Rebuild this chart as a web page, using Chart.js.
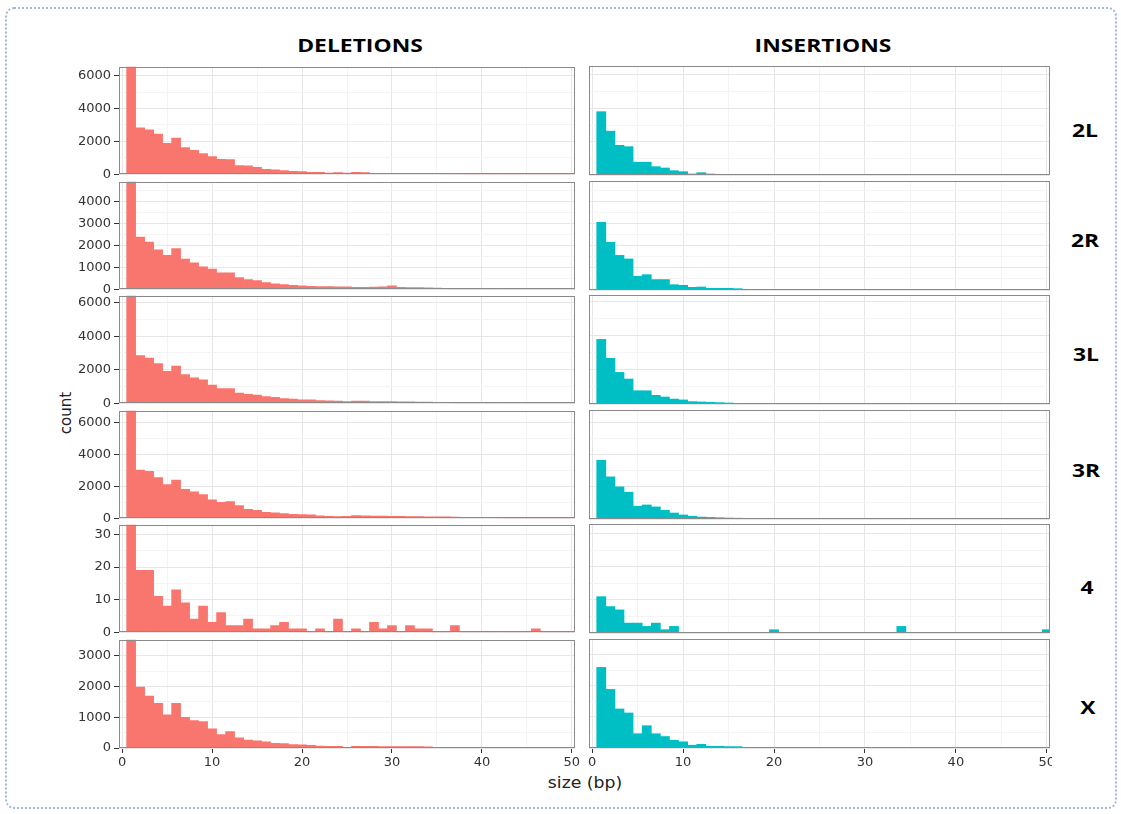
<!DOCTYPE html>
<html>
<head>
<meta charset="utf-8">
<script src="https://cdn.jsdelivr.net/npm/chart.js@4.4.1/dist/chart.umd.min.js"></script>
<style>
  html, body { margin: 0; padding: 0; background: #fff; }
  body { width: 1121px; height: 814px; position: relative; overflow: hidden; font-family: "Liberation Sans", Arial, sans-serif; }
  #frame { position: absolute; left: 5px; top: 7px; width: 1112px; height: 802px; border: 2px dotted #9DB8DB; border-radius: 9px; box-sizing: border-box; }
  .holder { position: absolute; overflow: hidden; }
  .holder canvas { position: absolute; left: 0; top: 0; }
  .strip { position: absolute; font-family: "Open Sans", sans-serif; font-weight: bold; font-size: 18px; color: #000; transform: translate(-50%, -50%) scaleX(1.27); white-space: nowrap; }
  .axis-title { position: absolute; font-family: "DejaVu Sans", sans-serif; font-size: 15px; color: #222; white-space: nowrap; }
</style>
</head>
<body>
<div id="frame"></div>
<div class="strip" style="left:360px;top:45px">DELETIONS</div>
<div class="strip" style="left:823px;top:45px">INSERTIONS</div>
<div class="strip" style="left:1085px;top:130px">2L</div>
<div class="strip" style="left:1085px;top:240px">2R</div>
<div class="strip" style="left:1086px;top:354px">3L</div>
<div class="strip" style="left:1086px;top:470px">3R</div>
<div class="strip" style="left:1087px;top:587px">4</div>
<div class="strip" style="left:1088px;top:707px">X</div>
<div class="axis-title" style="left:66px;top:413px;transform:translate(-50%,-50%) rotate(-90deg)">count</div>
<div class="axis-title" style="left:585px;top:783px;transform:translate(-50%,-50%) scaleX(1.15)">size (bp)</div>
<div id="panels"></div>
<script>
// indel size bins (bp), one bar per integer size
const sizes = [1,2,3,4,5,6,7,8,9,10,11,12,13,14,15,16,17,18,19,20,21,22,23,24,25,
               26,27,28,29,30,31,32,33,34,35,36,37,38,39,40,41,42,43,44,45,46,47,48,49,50];

// x axis ticks (major labelled, minor unlabelled)
const xMajorTicks = [0, 10, 20, 30, 40, 50];
const xMinorTicks = [5, 15, 25, 35, 45];

// chromosome arms, one row each
const chromosomes = ['2L', '2R', '3L', '3R', '4', 'X'];

// deletion counts per size
const del2L = [9800,2830,2700,2440,1880,2200,1620,1450,1250,1070,910,890,530,510,420,300,260,220,180,160,
               120,120,70,100,70,110,100,60,50,50,50,50,40,40,30,20,10,0,0,0,0,0,0,0,0,0,0,0,0,0];
const del2R = [7900,2380,2150,1800,1550,1860,1380,1200,1020,920,750,750,530,440,390,300,240,210,180,150,
               135,120,120,105,105,90,90,100,105,150,80,70,70,60,50,0,0,0,0,0,0,0,0,0,0,0,0,0,0,0];
const del3L = [9600,2840,2690,2370,1900,2220,1710,1510,1390,1080,880,880,610,530,490,390,350,280,240,200,
               200,160,140,120,100,120,120,100,90,90,80,80,70,60,50,40,0,0,0,0,0,0,0,0,0,0,0,0,0,0];
const del3R = [10400,3020,2940,2550,2110,2400,1820,1660,1490,1160,990,1040,790,560,500,370,330,290,250,230,
               210,150,120,100,120,170,150,140,130,120,110,100,100,90,80,80,70,60,50,40,30,20,0,0,0,0,0,0,0,0];
const del4  = [40,19,19,11,8,13,9,4,8,3,6,2,2,4,1,1,2,3,1,1,
               0,1,0,4,0,1,0,3,1,2,0,2,1,1,0,0,2,0,0,0,0,0,0,0,0,1,0,0,0,0];
const delX  = [6100,1980,1690,1450,1080,1450,1000,890,860,620,440,530,330,260,230,200,150,140,110,100,
               90,65,55,55,20,55,55,55,50,50,50,45,45,40,0,0,0,0,0,0,0,0,0,0,0,0,0,0,0,0];

// insertion counts per size
const ins2L = [3800,2630,1780,1700,770,770,500,420,260,200,60,140,60,20,20,0,0,0,0,0,
               0,0,0,0,0,0,0,0,0,0,0,0,0,0,0,0,0,0,0,0,0,0,0,0,0,0,0,0,0,0];
const ins2R = [3050,2150,1560,1400,620,690,470,470,240,210,120,135,75,75,75,60,0,0,0,0,
               0,0,0,0,0,0,0,0,0,0,0,0,0,0,0,0,0,0,0,0,0,0,0,0,0,0,0,0,0,0];
const ins3L = [3800,2690,1860,1470,780,780,510,410,290,240,140,120,100,80,60,40,30,20,0,0,
               0,0,0,0,0,0,0,0,0,0,0,0,0,0,0,0,0,0,0,0,0,0,0,0,0,0,0,0,0,0];
const ins3R = [3640,2610,1990,1660,790,870,750,540,370,250,170,120,100,80,60,50,40,30,0,0,
               0,0,0,0,0,0,0,0,0,0,0,0,0,0,0,0,0,0,0,0,0,0,0,0,0,0,0,0,0,0];
const ins4  = [11,8,7,3,3,2,3,1,2,0,0,0,0,0,0,0,0,0,0,1,
               0,0,0,0,0,0,0,0,0,0,0,0,0,2,0,0,0,0,0,0,0,0,0,0,0,0,0,0,0,1];
const insX  = [2600,1890,1260,1130,460,720,460,370,250,200,90,120,55,55,45,45,0,0,0,0,
               0,0,0,0,0,0,0,0,0,0,0,0,0,0,0,0,0,0,0,0,0,0,0,0,0,0,0,0,0,0];

// y axis ranges and tick steps for each row (shared by both columns of a row)
const yMax       = [6540, 4910, 6410, 6750, 33, 3516];
const yMajorStep = [2000, 1000, 2000, 2000, 10, 1000];

const deletions  = [del2L, del2R, del3L, del3R, del4, delX];
const insertions = [ins2L, ins2R, ins3L, ins3R, ins4, insX];

const DEL_COLOR = '#F8766D';
const INS_COLOR = '#00BFC4';

// panel geometry (chart area in page pixels)
const rowTops = [66, 181, 295, 410, 524, 639];
const rowHeight = 109;
const colLeft = [119, 589];
const colRight = [575, 1050];

const tickFont = { family: 'DejaVu Sans', size: 13 };
const tickColor = '#333';
const majorGrid = '#E6E6E6';
const minorGrid = '#F4F4F4';

// draws the grey frame around each panel on top of the bars
const panelBorder = {
  id: 'panelBorder',
  afterDatasetsDraw(chart) {
    const a = chart.chartArea, ctx = chart.ctx;
    ctx.save();
    ctx.strokeStyle = '#8A8A8A';
    ctx.lineWidth = 1;
    ctx.strokeRect(Math.round(a.left) + 0.5, Math.round(a.top) + 0.5,
                   Math.round(a.right - a.left) - 1, Math.round(a.bottom - a.top) - 1);
    ctx.restore();
  }
};

function buildPanel(row, col) {
  const isLeft = col === 0;
  const isBottom = row === rowTops.length - 1;
  const values = isLeft ? deletions[row] : insertions[row];
  const color = isLeft ? DEL_COLOR : INS_COLOR;

  const padTop = 10, padBottom = isBottom ? 6 : 10;
  const xAxisH = isBottom ? 30 : 0;
  const yAxisW = isLeft ? 69 : 0;
  const padLeft = isLeft ? 0 : 9;
  const padRight = 12;

  const canvasLeft = isLeft ? colLeft[0] - yAxisW : colLeft[1] - padLeft;
  const canvasW = (colRight[col] - colLeft[col]) + yAxisW + padLeft + padRight;
  const canvasTop = rowTops[row] - padTop;
  const canvasH = padTop + rowHeight + xAxisH + padBottom;

  const holder = document.createElement('div');
  holder.className = 'holder';
  holder.style.left = canvasLeft + 'px';
  holder.style.top = canvasTop + 'px';
  // the insertions column is cut at its right edge
  holder.style.width = (isLeft ? canvasW : (1052 - canvasLeft)) + 'px';
  holder.style.height = canvasH + 'px';
  const canvas = document.createElement('canvas');
  canvas.width = canvasW;
  canvas.height = canvasH;
  holder.appendChild(canvas);
  document.getElementById('panels').appendChild(holder);

  const step = yMajorStep[row];
  const yTicks = [];
  for (let v = 0; v <= yMax[row]; v += step / 2) yTicks.push(v);

  new Chart(canvas, {
    type: 'bar',
    data: {
      datasets: [{
        label: (isLeft ? 'deletions ' : 'insertions ') + chromosomes[row],
        data: sizes.map((s, i) => ({ x: s, y: values[i] })),
        backgroundColor: color,
        borderWidth: 0,
        barPercentage: 1,
        categoryPercentage: 1,
        clip: 0
      }]
    },
    options: {
      responsive: false,
      animation: false,
      devicePixelRatio: 1,
      layout: { padding: { top: padTop, bottom: padBottom, left: padLeft, right: padRight } },
      plugins: { legend: { display: false }, tooltip: { enabled: false }, title: { display: false } },
      scales: {
        x: {
          type: 'linear',
          offset: false,
          min: -0.35,
          max: 50.35,
          afterBuildTicks(scale) {
            scale.ticks = xMajorTicks.concat(xMinorTicks).sort((a, b) => a - b).map(v => ({ value: v }));
          },
          afterFit(scale) { scale.height = xAxisH; },
          border: { display: false },
          grid: {
            offset: false,
            color: ctx => (ctx.tick && ctx.tick.value % 10 === 0) ? majorGrid : minorGrid,
            tickColor: ctx => (ctx.tick && ctx.tick.value % 10 === 0) ? tickColor : 'rgba(0,0,0,0)',
            drawTicks: isBottom,
            tickLength: 5
          },
          ticks: {
            display: isBottom,
            autoSkip: false,
            maxRotation: 0,
            padding: 2,
            font: tickFont,
            color: tickColor,
            callback: v => (v % 10 === 0 ? String(v) : '')
          }
        },
        y: {
          min: 0,
          max: yMax[row],
          afterBuildTicks(scale) { scale.ticks = yTicks.map(v => ({ value: v })); },
          afterFit(scale) { scale.width = yAxisW; },
          border: { display: false },
          grid: {
            color: ctx => (ctx.tick && ctx.tick.value % step === 0) ? majorGrid : minorGrid,
            tickColor: ctx => (ctx.tick && ctx.tick.value % step === 0) ? tickColor : 'rgba(0,0,0,0)',
            drawTicks: isLeft,
            tickLength: 5
          },
          ticks: {
            display: isLeft,
            autoSkip: false,
            padding: 3,
            font: tickFont,
            color: tickColor,
            callback: v => (v % step === 0 ? String(v) : '')
          }
        }
      }
    },
    plugins: [panelBorder]
  });
}

for (let r = 0; r < rowTops.length; r++) {
  buildPanel(r, 0);
  buildPanel(r, 1);
}
</script>
</body>
</html>
